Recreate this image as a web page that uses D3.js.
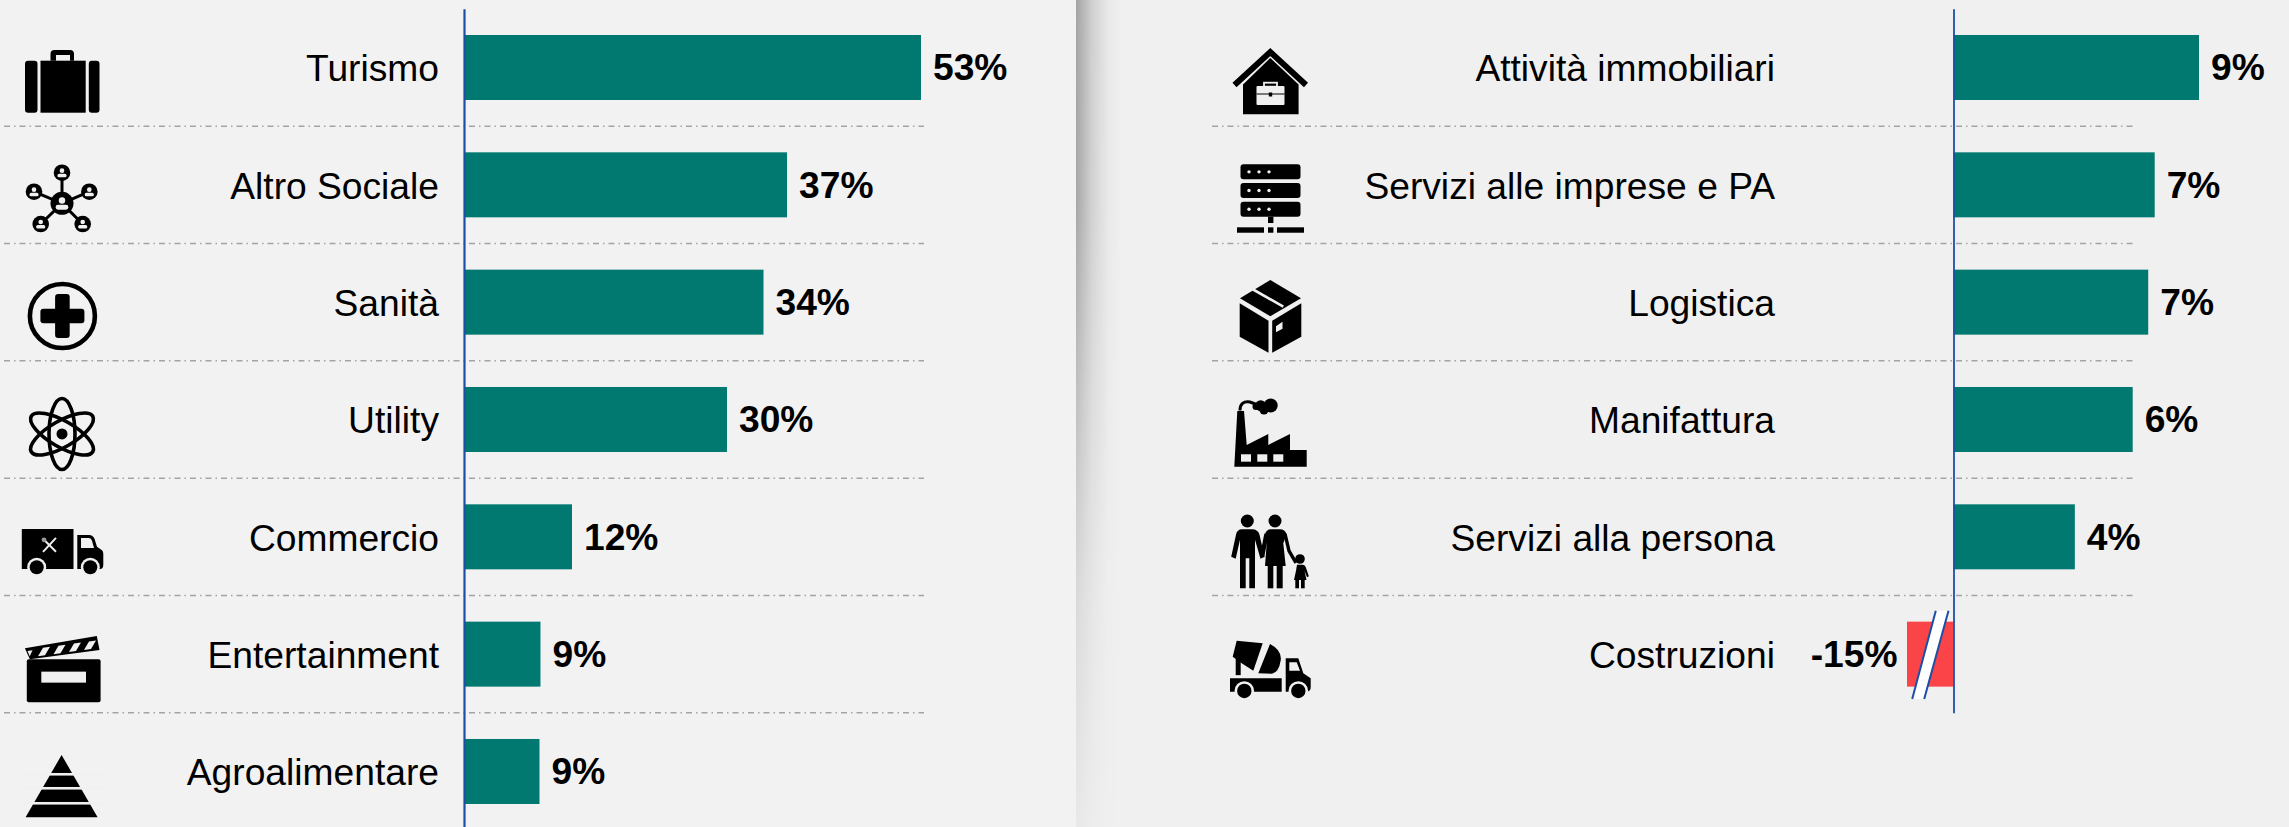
<!DOCTYPE html>
<html>
<head>
<meta charset="utf-8">
<script src="https://cdn.jsdelivr.net/npm/d3@7"></script>
<style>
    html, body { margin: 0; padding: 0; background: #f0f0f0; }
    svg { display: block; }
    text { font-family: "Liberation Sans", Arial, sans-serif; fill: #000; }
</style>
</head>
<body>
<div id="chart"></div>
<script>
const leftCats = ["Turismo", "Altro Sociale", "Sanità", "Utility", "Commercio", "Entertainment", "Agroalimentare"]
const leftVals = [52.6, 37.18, 34.47, 30.27, 12.43, 8.8, 8.69]
const leftIcons = ["suitcase", "network", "health", "atom", "truck", "clapper", "pyramid"]

const rightCats = ["Attività immobiliari", "Servizi alle imprese e PA", "Logistica", "Manifattura", "Servizi alla persona", "Costruzioni"]
const rightVals = [8.7, 7.13, 6.9, 6.35, 4.3, -15]
const rightIcons = ["house", "server", "box", "factory", "family", "mixer"]

const W = 2289, H = 827
const BG = "#f0f0f0", TEAL = "#027970", RED = "#fb4448", BLUE = "#1c4ea6"
const step = 117.33, bandTop = 8.83

const svg = d3.select("#chart").append("svg").attr("width", W).attr("height", H)
const defs = svg.append("defs")

/* BACKGROUND + PANEL SHADOW */
function addBackground() {
    svg.append("rect").attr("width", W).attr("height", H).attr("fill", BG)
    svg.append("rect").attr("width", 1076).attr("height", H).attr("fill", "#f2f2f2")

    const hg = defs.append("linearGradient").attr("id", "shadeH")
    hg.append("stop").attr("offset", 0).attr("stop-color", "#000").attr("stop-opacity", 0.32)
    hg.append("stop").attr("offset", 0.35).attr("stop-color", "#000").attr("stop-opacity", 0.13)
    hg.append("stop").attr("offset", 0.7).attr("stop-color", "#000").attr("stop-opacity", 0.03)
    hg.append("stop").attr("offset", 1).attr("stop-color", "#000").attr("stop-opacity", 0)

    const vg = defs.append("linearGradient").attr("id", "shadeV")
        .attr("x1", 0).attr("y1", 0).attr("x2", 0).attr("y2", 1)
    const stops = [[0, 1], [0.25, 0.95], [0.5, 0.6], [0.72, 0.3], [1, 0.1]]
    stops.forEach(s => vg.append("stop").attr("offset", s[0]).attr("stop-color", "#fff").attr("stop-opacity", s[1]))

    defs.append("mask").attr("id", "shadeMask").attr("maskUnits", "userSpaceOnUse")
        .attr("x", 1076).attr("y", 0).attr("width", 46).attr("height", H)
        .append("rect").attr("x", 1076).attr("width", 46).attr("height", H).attr("fill", "url(#shadeV)")

    svg.append("rect").attr("x", 1076).attr("width", 46).attr("height", H)
        .attr("fill", "url(#shadeH)").attr("mask", "url(#shadeMask)")
}

/* ICONS, drawn around the middle of their row */
const blob = (g, d) => g.append("path").attr("d", d).attr("fill", "#000")
const hole = (g, d) => g.append("path").attr("d", d).attr("fill", BG)
const dot = (g, x, y, r, fill) => g.append("circle").attr("cx", x).attr("cy", y).attr("r", r).attr("fill", fill || "#000")
const stroke = (g, d, w, col) => g.append("path").attr("d", d).attr("fill", "none")
    .attr("stroke", col || "#000").attr("stroke-width", w)
const box = (g, x0, y0, x1, y1, r, fill) => g.append("rect").attr("x", x0).attr("y", y0)
    .attr("width", x1 - x0).attr("height", y1 - y0).attr("rx", r || 0).attr("fill", fill || "#000")

function person(g, x, y, R) {
    dot(g, x, y, R, "#000")
    dot(g, x, y - 0.25 * R, 0.28 * R, BG)
    box(g, x - 0.55 * R, y + 0.12 * R, x + 0.55 * R, y + 0.55 * R, 0.2 * R, BG)
}

const icons = {
    suitcase: g => {
        box(g, -37, -6.8, -24.5, 45.2, 3)
        box(g, -21.5, -6.8, 23.7, 45.2)
        box(g, 26.8, -6.8, 37.5, 45.2, 3)
        blob(g, "M-11.5 -6.8 V-13.5 Q-11.5 -17.5 -7.5 -17.5 H8 Q12 -17.5 12 -13.5 V-6.8 H8 V-12.5 H-6 V-6.8 Z")
    },
    network: g => {
        const outer = [[0, -12.1], [-28, 6.9], [27.3, 6.9], [-21.3, 39.2], [20.7, 39.2]]
        outer.forEach(p => stroke(g, `M0 18.5 L${p[0]} ${p[1]}`, 3))
        outer.forEach(p => person(g, p[0], p[1], 8.3))
        person(g, 0, 18.5, 11.5)
    },
    health: g => {
        const c = g.append("g").attr("transform", "translate(0.4,13.8)")
        c.append("ellipse").attr("rx", 32.5).attr("ry", 32).attr("fill", "none").attr("stroke", "#000").attr("stroke-width", 4.6)
        box(c, -22, -7.3, 22, 7.3, 3)
        box(c, -7.3, -22, 7.3, 22, 3)
    },
    atom: g => {
        const c = g.append("g").attr("transform", "translate(0,14.5)")
        const angles = [0, 60, -60]
        angles.forEach(a => c.append("ellipse").attr("rx", 13).attr("ry", 35.5).attr("fill", "none")
            .attr("stroke", "#000").attr("stroke-width", 3.6).attr("transform", `rotate(${a})`))
        dot(c, 0, 0, 5.5)
    },
    truck: g => {
        box(g, -40.2, -7.8, 11.5, 32.2)
        blob(g, "M15.3 -1.8 H27 Q31 -1.8 32.5 2 L35 10 L40 13.5 Q41.3 14.5 41.3 17 V28 Q41.3 32.2 38 32.2 H15.3 Z")
        hole(g, "M19 1.2 H27 Q29 1.2 30 4 L32 11.2 H19 Z")
        dot(g, -25.3, 30.5, 9.5, BG); dot(g, -25.3, 30.5, 7)
        dot(g, 28.3, 30.5, 9.5, BG); dot(g, 28.3, 30.5, 7)
        stroke(g, "M-6 1 L-19 15", 2, BG)
        stroke(g, "M-19 2 L-6 15", 2, BG)
        g.append("circle").attr("cx", -18).attr("cy", 3).attr("r", 2.4).attr("fill", "#9a9a9a")
    },
    clapper: g => {
        box(g, -35.2, 5.1, 38.6, 48.1, 2)
        box(g, -20.7, 17.5, 24, 28.5, 0, BG)
        blob(g, "M-37.1 -5.9 L34.8 -18.2 L37.5 -4.2 L-32.1 5.1 Z")
        const stripes = [[-24, 2], [-8.5, 0], [7, -2.1], [22, -4.1]]
        stripes.forEach(s => hole(g, `M${s[0]} ${s[1]} l7 -1 l5 -8.5 l-7 1 z`))
        hole(g, "M-34.5 -3.2 L-29.5 -4 L-32.2 2 Z")
    },
    pyramid: g => {
        blob(g, "M-0.4 -16.5 L35.6 45.8 H-36.4 Z")
        const gaps = [2.8, 16.8, 31.8]
        gaps.forEach(y => box(g, -40, y - 1.3, 40, y + 1.3, 0, BG))
    },
    house: g => {
        g.append("path").attr("d", "M-35.5 17.5 L0.3 -15.5 L36 17.5").attr("fill", "none")
            .attr("stroke", "#000").attr("stroke-width", 6).attr("stroke-miterlimit", 10)
        blob(g, "M0.3 -9.5 L28.6 17 V46.8 H-27 V17 Z")
        box(g, -13.5, 18.5, 14.5, 37.5, 1, BG)
        g.append("rect").attr("x", -6).attr("y", 15.2).attr("width", 13).attr("height", 4).attr("fill", "none")
            .attr("stroke", BG).attr("stroke-width", 1.8)
        box(g, -13.5, 26, 14.5, 27, 0)
        box(g, -1.2, 25, 2.2, 29, 0)
    },
    server: g => {
        const rows = [-20.5, -1.8, 16.9]
        const dots = [-21, -11, -1]
        rows.forEach(y => {
            box(g, -29.5, y, 30.5, y + 15, 3)
            dots.forEach(x => dot(g, x, y + 7.5, 1.7, BG))
        })
        box(g, -2, 31.9, 3.4, 38.2)
        box(g, -33, 42.5, -6, 47.9)
        box(g, -2, 42.5, 3.4, 47.9)
        box(g, 7, 42.5, 34, 47.9)
    },
    box: g => {
        blob(g, "M0.3 -22.2 L31 -4 L0.3 14 L-30 -4 Z")
        stroke(g, "M-17.3 -12.9 L13.3 4.5", 2.6, BG)
        blob(g, "M-30.3 1 L-1.5 18.5 V50.5 L-30.3 34.5 Z")
        blob(g, "M2.2 18.5 L31.3 1 V34.5 L2.2 50.5 Z")
        hole(g, "M6 24 L12.5 19.5 V26.5 L6 30 Z")
    },
    factory: g => {
        blob(g, "M-35.7 47.2 L-32.7 -8.5 H-26 L-23.3 25.5 L-1.7 14.5 V25.5 L20 14.5 V30.5 H36.7 V47.2 Z")
        const windows = [-29, -12.7, 3.3]
        windows.forEach(x => box(g, x, 34.8, x + 10, 42.2, 0, BG))
        stroke(g, "M-30 -9 Q-30 -19 -20 -17.5 L-12 -14.5", 3)
        dot(g, -9.3, -13.8, 5.5); dot(g, 0.7, -14, 7); dot(g, -6, -9.5, 4.5); dot(g, -14, -13, 3.5)
    },
    family: g => {
        dot(g, -22.7, -15.8, 6.5); dot(g, 5, -15.8, 6.5); dot(g, 30, 22.2, 4.8)
        blob(g, "M-34 -2 Q-33 -7.5 -28 -7.5 H-18 Q-12 -7.5 -10.5 -2 L-5.5 20 L-9.5 22 L-15 3 V51.5 H-20.7 V21.5 H-24.3 V51.5 H-30 V3 L-34.3 22 L-38.8 20 Z")
        blob(g, "M1 -7.5 H10 Q15 -7.5 16.5 -2.5 L13.3 6.5 L15.7 29.2 H-5 L-3.3 6.5 L-5 -2 Q-4 -7.5 1 -7.5 Z")
        stroke(g, "M-3.5 -3 L-8 20", 4.4)
        stroke(g, "M15 -3 L19 14 L26 26", 3.4)
        box(g, -2.3, 29, 3.3, 51.5)
        box(g, 6.7, 29, 12.7, 51.5)
        blob(g, "M27 28 H33 Q35 28 36 31 L38.8 39.5 L37 40.5 L34.5 34 L36.5 43.2 H24 L26 34 Z")
        box(g, 25.3, 43, 29, 51.5)
        box(g, 31, 43, 34.7, 51.5)
    },
    mixer: g => {
        blob(g, "M-40 24.1 H11.7 V37.5 H-40 Z")
        blob(g, "M15.7 4.1 H28.3 L33.3 19.1 L40.7 24.1 V33.1 Q40.7 37.5 36 37.5 H15.7 Z")
        hole(g, "M19.3 8.1 H26.7 L30 16.5 H19.3 Z")
        dot(g, -25.7, 36.8, 9.8, BG); dot(g, -25.7, 36.8, 7.2)
        dot(g, 28.3, 36.8, 9.8, BG); dot(g, 28.3, 36.8, 7.2)
        blob(g, "M-33.3 -13.5 L-7.3 -10.9 L-16.7 16.5 L-28.3 9.1 L-37.3 2.5 Z")
        blob(g, "M0 -10.2 Q12 -4 10.7 6 Q9 18 2 19.5 L-11.7 19.1 Z")
        box(g, -34.3, 4, -29.3, 21)
    },
}

/* ONE PANEL: bars, axis, labels, rows */
function addPanel(cats, vals, iconNames, x, opts) {
    const y = d3.scaleBand()
        .domain(cats)
        .range([bandTop, bandTop + step * cats.length])
        .paddingInner(0.446)
        .paddingOuter(0.223)

    const panel = svg.append("g")

    // separators between rows
    panel.append("g").selectAll("line")
        .data(cats.slice(0, opts.rules))
        .join("line")
        .attr("x1", opts.ruleFrom)
        .attr("x2", opts.ruleTo)
        .attr("y1", d => y(d) + y.bandwidth() + (y.step() - y.bandwidth()) / 2)
        .attr("y2", d => y(d) + y.bandwidth() + (y.step() - y.bandwidth()) / 2)
        .attr("stroke", "#a3a3a3")
        .attr("stroke-width", 1.5)
        .attr("stroke-dasharray", "6 4 1.5 4")

    const rows = cats.map((c, i) => ({ cat: c, val: vals[i], icon: iconNames[i] }))

    panel.append("g").selectAll("rect")
        .data(rows)
        .join("rect")
        .attr("x", d => Math.min(x(d.val), x(0)))
        .attr("y", d => y(d.cat))
        .attr("width", d => Math.abs(x(d.val) - x(0)))
        .attr("height", y.bandwidth())
        .attr("fill", d => d.val < 0 ? RED : TEAL)

    // value labels
    panel.append("g").selectAll("text")
        .data(rows)
        .join("text")
        .attr("x", d => d.val < 0 ? x(d.val) - 9.5 : x(d.val) + 12)
        .attr("y", d => y(d.cat) + y.bandwidth() / 2 + 13)
        .attr("text-anchor", d => d.val < 0 ? "end" : "start")
        .style("font-size", "37.2px")
        .style("font-weight", "700")
        .text(d => Math.round(d.val) + "%")

    // break mark on the negative bar
    const broken = rows.filter(d => d.val < 0)
    panel.append("g").selectAll("g")
        .data(broken)
        .join("g")
        .attr("transform", d => `translate(${x(0)},${y(d.cat)})`)
        .each(function () {
            const g = d3.select(this)
            g.append("path").attr("d", "M-17.7 -11 L-41.3 77.3 H-29.3 L-5 -11 Z").attr("fill", "#fff")
            stroke(g, "M-17.7 -11 L-41.3 77.3", 2, BLUE)
            stroke(g, "M-5 -11 L-29.3 77.3", 2, BLUE)
        })

    // category axis
    const axis = panel.append("g")
        .attr("transform", `translate(${x(0)},0)`)
        .call(d3.axisLeft(y).tickSize(0).tickPadding(opts.padding))
    axis.select(".domain").attr("stroke", BLUE).attr("stroke-width", opts.axisWidth)
    axis.selectAll(".tick text")
        .attr("dy", "14px")
        .style("font-size", "37.2px")
        .style("font-family", '"Liberation Sans", Arial, sans-serif')
        .style("fill", "#000")

    // icon column
    panel.append("g").selectAll("g")
        .data(rows)
        .join("g")
        .attr("transform", d => `translate(${opts.iconX},${y(d.cat) + y.bandwidth() / 2})`)
        .each(function (d) { icons[d.icon](d3.select(this)) })
}

addBackground()

const xLeft = d3.scaleLinear().domain([0, 52.6]).range([464, 921])
addPanel(leftCats, leftVals, leftIcons, xLeft, {
    rules: 6, ruleFrom: 4, ruleTo: 924, padding: 25, axisWidth: 2.2, iconX: 62,
})

// the right scale is broken: the -15 bar is squeezed into a short stub
const xRight = d3.scaleLinear().domain([-15, 0, 8.7]).range([1907, 1953.5, 2199])
addPanel(rightCats, rightVals, rightIcons, xRight, {
    rules: 5, ruleFrom: 1212, ruleTo: 2133, padding: 178.5, axisWidth: 1.8, iconX: 1270,
})
</script>
</body>
</html>
